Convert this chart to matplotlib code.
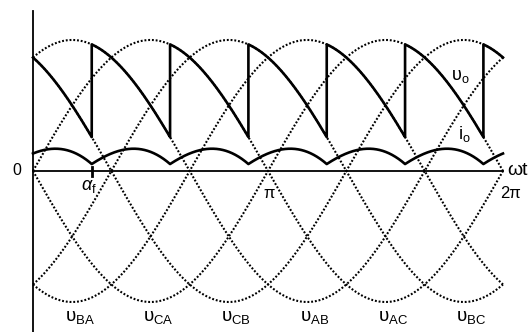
import numpy as np
import matplotlib.pyplot as plt

plt.rcParams['font.family'] = ['Liberation Sans', 'DejaVu Sans']
plt.rcParams['mathtext.fontset'] = 'custom'
plt.rcParams['mathtext.rm'] = 'Liberation Sans'
plt.rcParams['mathtext.it'] = 'Liberation Sans:italic'

# line-to-line voltages: v = v_peak * sin(wt + phase)
line_names = ['AB', 'AC', 'BC', 'BA', 'CA', 'CB']
line_phase_deg = [60, 0, -60, -120, -180, 120]
v_peak = 1.0

# bridge conduction order; the first entry is still on before the first firing
conduct_seq = ['CB', 'AB', 'AC', 'BC', 'BA', 'CA', 'CB']
alpha_deg = 45

# load current ripple (plotted on the voltage scale) and RL time constant
i_o_min = 0.053
i_o_max = 0.17
omega_L_over_R = 6.0

phase = dict(zip(line_names, np.radians(line_phase_deg)))
alpha = np.radians(alpha_deg)
step = np.pi / 3
switch = np.array([0.0] + [alpha + k * step for k in range(6)] + [2 * np.pi])

theta = np.linspace(0, 2 * np.pi, 2161)


def v_out(th):
    idx = np.clip(np.searchsorted(switch, th, side='right') - 1, 0, len(conduct_seq) - 1)
    ph = np.array([phase[conduct_seq[i]] for i in np.atleast_1d(idx)])
    return v_peak * np.sin(th + ph)


def rl_current(v, h, tau, y0):
    # exact step of tau*y' + y = v with v held over each step
    a = np.exp(-h / tau)
    y = np.empty_like(v)
    y[0] = y0
    for n in range(len(v) - 1):
        y[n + 1] = y[n] * a + (1 - a) * v[n]
    return y


# steady periodic solution: find the start value that repeats after 2*pi
h = theta[1] - theta[0]
v_grid = v_out(theta)
y_free = rl_current(v_grid, h, omega_L_over_R, 0.0)
y0 = y_free[-1] / (1 - np.exp(-2 * np.pi / omega_L_over_R))
y = rl_current(v_grid, h, omega_L_over_R, y0)
i_o = i_o_min + (y - y.min()) / (y.max() - y.min()) * (i_o_max - i_o_min)

# output voltage path with the vertical jumps at each firing
vo_x, vo_y = [], []
for k, name in enumerate(conduct_seq):
    th = np.linspace(switch[k], switch[k + 1], 120)
    vo_x.append(th)
    vo_y.append(v_peak * np.sin(th + phase[name]))
vo_x = np.concatenate(vo_x)
vo_y = np.concatenate(vo_y)

fig = plt.figure(figsize=(5.29, 3.32), dpi=100)
ax = fig.add_axes([0, 0, 1, 1])
ax.set_xlim(-0.441, 6.631)
ax.set_ylim(-1.229, 1.305)
ax.axis('off')

dots = (0, (0.9, 0.9))
for name in line_names:
    ax.plot(theta, v_peak * np.sin(theta + phase[name]), color='k', lw=1.5, ls=dots)

ax.plot([0, 2 * np.pi], [0, 0], color='k', lw=1.3)
ax.plot([0, 0], [-1.3, 1.22], color='k', lw=1.3)
ax.plot([alpha, alpha], [-0.04, 0.03], color='k', lw=2)

ax.plot(vo_x, vo_y, color='k', lw=1.9)
ax.plot(theta, i_o, color='k', lw=1.9)

ax.text(-0.21, 0, '0', fontsize=11.5, ha='center', va='center')
ax.text(alpha - 0.04, -0.12, r'$\alpha_{\rm f}$', fontsize=13, ha='center', va='center')
ax.text(3.16, -0.17, 'π', fontsize=12, ha='center', va='center')
ax.text(6.39, -0.17, '2π', fontsize=12, ha='center', va='center')
ax.text(2 * np.pi + 0.06, 0, 'ωt', fontsize=14, ha='left', va='center')
ax.text(5.71, 0.718, r'$\mathregular{υ_o}$', fontsize=13, ha='center', va='center')
ax.text(5.76, 0.282, r'$\mathregular{i_o}$', fontsize=13, ha='center', va='center')

for name in line_names:
    trough = (1.5 * np.pi - phase[name]) % (2 * np.pi)
    ax.text(trough - 0.1, -1.12, r'$\mathregular{υ_{%s}}$' % name, fontsize=13.5,
            ha='left', va='center')

fig.savefig('out.png', dpi=100)
